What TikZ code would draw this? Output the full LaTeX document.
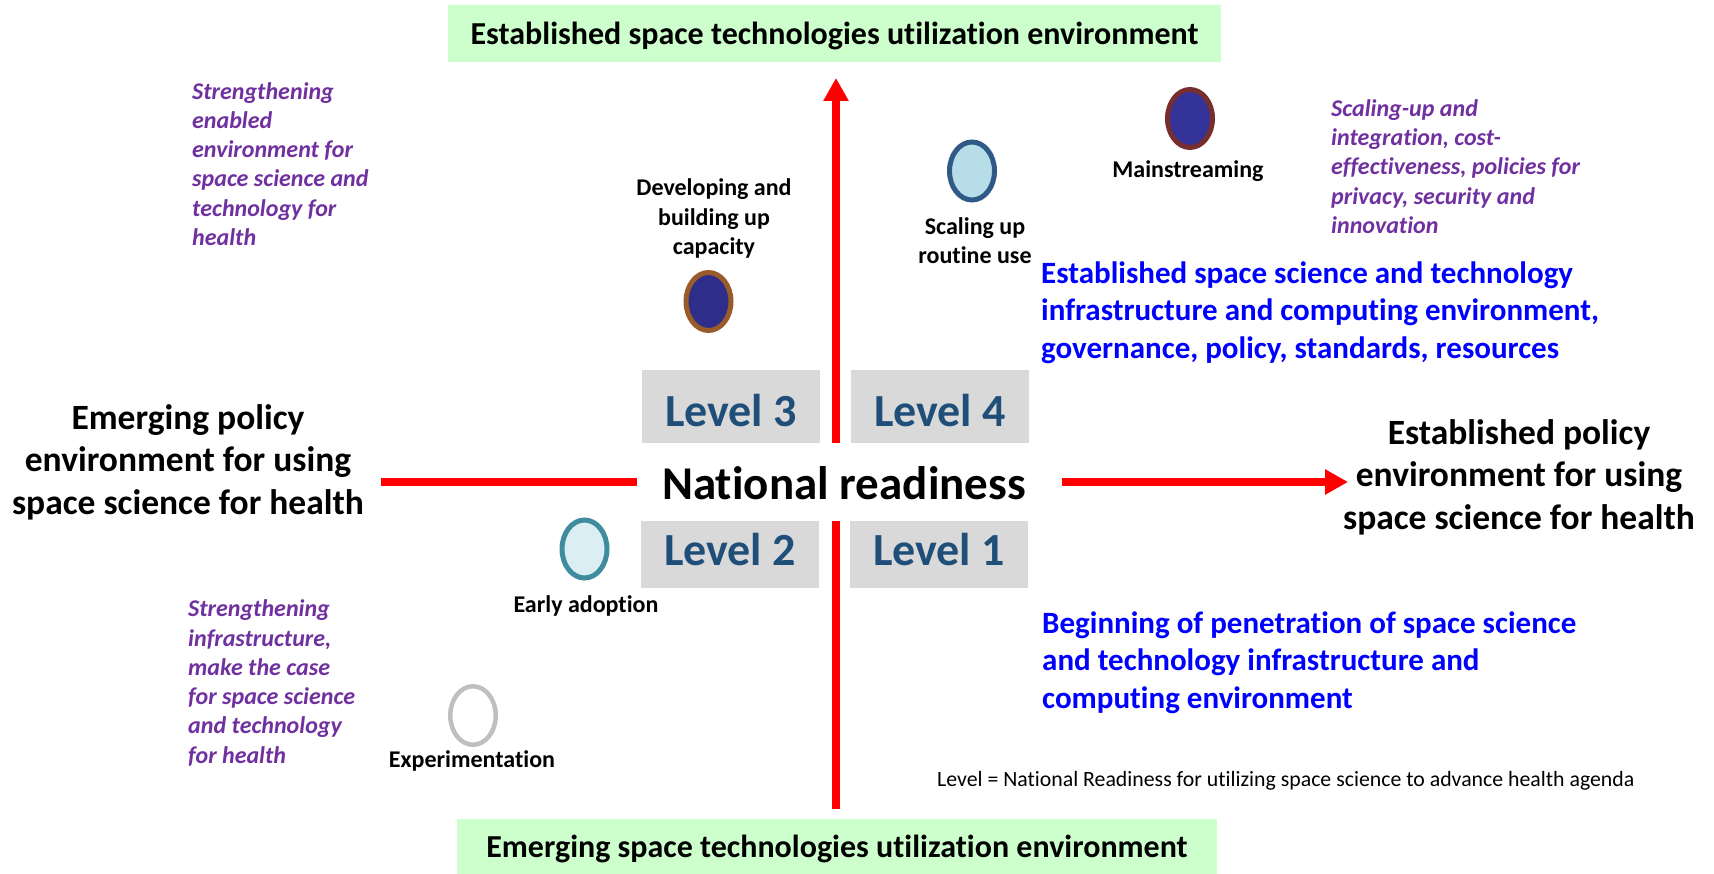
\documentclass[tikz,border=0pt]{standalone}
\usepackage{fontspec}
\setmainfont{Carlito}[Ligatures=NoCommon]
\usetikzlibrary{arrows.meta,shapes.geometric}
\definecolor{grn}{HTML}{CCFFCC}
\definecolor{lgray}{HTML}{D9D9D9}
\definecolor{lvlblue}{HTML}{1F4E79}
\definecolor{purp}{HTML}{7030A0}
\definecolor{bblue}{HTML}{0000FF}
\definecolor{navy}{HTML}{2E2E8A}
\definecolor{navy2}{HTML}{333399}
\definecolor{brownb}{HTML}{9A5B2A}
\definecolor{maroonb}{HTML}{772E2E}
\definecolor{lightfill}{HTML}{B7DEE8}
\definecolor{slateb}{HTML}{2F5A87}
\definecolor{paleteal}{HTML}{DAEEF3}
\definecolor{tealb}{HTML}{3E8C9E}
\definecolor{greyb}{HTML}{BFBFBF}
\begin{document}
\begin{tikzpicture}[x=1pt,y=-1pt,
  hdr/.style={fill=grn, inner sep=0},
  hdrtxt/.style={inner sep=0, font=\bfseries\fontsize{32}{38}\selectfont},
  lvlbox/.style={fill=lgray, minimum width=178, inner sep=0},
  lvltxt/.style={text=lvlblue, inner sep=0, font=\bfseries\fontsize{46}{55}\selectfont},
  ell/.style={ellipse, minimum width=45, minimum height=58, line width=5, inner sep=0},
  lbl/.style={inner sep=0, align=center, font=\bfseries\fontsize{24}{29.5}\selectfont},
  purpt/.style={inner sep=0, align=left, text=purp, anchor=west, font=\bfseries\itshape\fontsize{24}{29.3}\selectfont},
  bluet/.style={inner sep=0, align=left, text=bblue, anchor=west, font=\bfseries\fontsize{31}{37.5}\selectfont},
  side/.style={inner sep=0, align=center, font=\bfseries\fontsize{35.5}{42.5}\selectfont},
  axis/.style={draw=red, line width=8},
  tip/.style={-{Triangle[width=24,length=23]}}
]
\useasboundingbox (0,0) rectangle (1714,874);

% header / footer boxes
\node[hdr, minimum width=773, minimum height=57] (topbox) at (834.5,33.5) {};
\node[hdrtxt] (top) at (834.5,36) {Established space technologies utilization environment};
\node[hdr, minimum width=760, minimum height=55] (botbox) at (837,846.5) {};
\node[hdrtxt] (bot) at (837,849) {Emerging space technologies utilization environment};

% level boxes
\node[lvlbox, minimum height=73] (L3box) at (731,406.5) {};
\node[lvlbox, minimum height=73] (L4box) at (940,406.5) {};
\node[lvlbox, minimum height=67] (L2box) at (730,554.5) {};
\node[lvlbox, minimum height=67] (L1box) at (939,554.5) {};
\node[lvltxt] (L3) at (731,410.5) {Level 3};
\node[lvltxt] (L4) at (940,410.5) {Level 4};
\node[lvltxt] (L2) at (730,550) {Level 2};
\node[lvltxt] (L1) at (939,550) {Level 1};

\node[inner sep=0, font=\bfseries\fontsize{47}{56}\selectfont] (nr) at (844,483) {National readiness};

% axes
\coordinate (vup0) at (836,443);
\coordinate (vup1) at (836,78);
\coordinate (vdn0) at (836,521);
\coordinate (vdn1) at (836,809);
\coordinate (hl0) at (381,482);
\coordinate (hl1) at (637,482);
\coordinate (hr0) at (1062,482);
\coordinate (hr1) at (1348,482);
\draw[axis, tip] (vup0) -- (vup1);
\draw[axis] (vdn0) -- (vdn1);
\draw[axis] (hl0) -- (hl1);
\draw[axis, tip] (hr0) -- (hr1);

% side texts
\node[side] (lefttxt) at (188,462) {Emerging policy\\environment for using\\space science for health};
\node[side] (righttxt) at (1519,477) {Established policy\\environment for using\\space science for health};

% ellipses
\node[ell, fill=navy, draw=brownb] (dev) at (708.5,301.5) {};
\node[ell, fill=lightfill, draw=slateb] (scal) at (972,171) {};
\node[ell, fill=navy2, draw=maroonb] (main) at (1190,118.5) {};
\node[ell, fill=paleteal, draw=tealb] (early) at (584.5,549) {};
\node[ell, fill=white, draw=greyb, line width=4.5, minimum width=45.5, minimum height=58.5] (exp) at (473,715.5) {};

% ellipse labels
\node[lbl] (devl) at (714,218.5) {Developing and\\building up\\capacity};
\node[lbl] (scall) at (975,240.5) {Scaling up\\routine use};
\node[lbl] (mainl) at (1188,171) {Mainstreaming};
\node[lbl] (earlyl) at (586,606) {Early adoption};
\node[lbl] (expl) at (472,761) {Experimentation};

% purple notes
\node[purpt] (p1) at (192,164) {Strengthening\\enabled\\environment for\\space science and\\technology for\\health};
\node[purpt] (p2) at (188,683) {Strengthening\\infrastructure,\\make the case\\for space science\\and technology\\for health};
\node[purpt] (p3) at (1331,166.5) {Scaling-up and\\integration, cost-\\effectiveness, policies for\\privacy, security and\\innovation};

% blue notes
\node[bluet] (b1) at (1041,312.5) {Established space science and technology\\infrastructure and computing environment,\\governance, policy, standards, resources};
\node[bluet] (b2) at (1042,662.5) {Beginning of penetration of space science\\and technology infrastructure and\\computing environment};

% footnote
\node[inner sep=0, anchor=west, font=\fontsize{21.8}{26}\selectfont] (foot) at (937,781) {Level = National Readiness for utilizing space science to advance health agenda};
\end{tikzpicture}
\end{document}
